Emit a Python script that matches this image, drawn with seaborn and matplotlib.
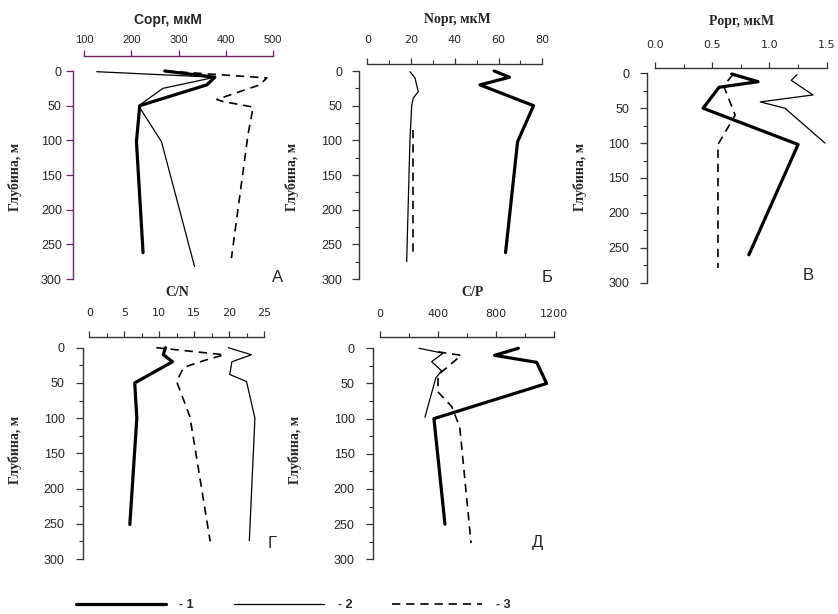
import matplotlib
matplotlib.use("Agg")
import matplotlib.pyplot as plt
from matplotlib.lines import Line2D
import seaborn as sns
import numpy as np

sns.set_style("white")
plt.rcParams['font.family'] = ['Liberation Sans', 'DejaVu Sans']

# ---------------- data ----------------
# Panel А : Сорг, мкМ
corg1_x = [271, 377, 360, 218, 211, 225]
corg1_y = [0, 9, 20, 50, 102, 262]
corg2_x = [127, 377, 267, 218, 220, 264, 334]
corg2_y = [1, 9, 25, 49, 55, 102, 282]
corg3_x = [272, 487, 472, 381, 394, 458, 447, 412]
corg3_y = [0, 10, 20, 41, 44, 52, 92, 270]

# Panel Б : Nорг, мкМ
norg1_x = [58, 65, 51.5, 76, 68.7, 63.2]
norg1_y = [0, 9, 20, 50, 102, 262]
norg2_x = [19.5, 21.8, 23.3, 21, 20.3, 19.5, 18]
norg2_y = [1, 10, 30, 39, 50, 99, 275]
norg3_x = [20.7, 20.7]
norg3_y = [85, 267]

# Panel В : Pорг, мкМ
porg1_x = [0.67, 0.90, 0.56, 0.42, 1.25, 0.82]
porg1_y = [1, 12, 20, 50, 102, 260]
porg2_x = [1.24, 1.19, 1.38, 0.92, 1.135, 1.485]
porg2_y = [2, 10, 31, 41, 50, 100]
porg3_x = [0.68, 0.60, 0.70, 0.55, 0.55]
porg3_y = [2, 18, 60, 102, 279]

# Panel Г : C/N
cn1_x = [10.9, 10.6, 11.9, 6.5, 6.8, 5.8]
cn1_y = [0, 10, 20, 50, 100, 251]
cn2_x = [19.9, 23.2, 20.4, 20.1, 22.5, 23.7, 22.9]
cn2_y = [0, 10, 20, 38, 48, 100, 274]
cn3_x = [9.6, 19.3, 16.5, 13.5, 12.5, 14.4, 17.3]
cn3_y = [0, 10, 18, 28, 48, 98, 275]

# Panel Д : C/P
cp1_x = [954, 790, 1081, 1149, 372, 448]
cp1_y = [0, 10, 20, 50, 100, 250]
cp2_x = [270, 435, 356, 425, 385, 310]
cp2_y = [0, 7, 19, 32, 42, 98]
cp3_x = [400, 560, 480, 400, 400, 495, 550, 628]
cp3_y = [5, 10, 24, 38, 62, 83, 112, 277]

depth_ticks = [0, 50, 100, 150, 200, 250, 300]
legend_labels = ["- 1", "- 2", "- 3"]
panel_letters = ["А", "Б", "В", "Г", "Д"]
titles = ["Сорг, мкМ", "Nорг, мкМ", "Pорг, мкМ", "C/N", "C/P"]
ylabel = "Глубина, м"

# ---------------- figure ----------------
W, H = 838, 614
fig = plt.figure(figsize=(W / 100, H / 100), dpi=100)

def px_axes(l, r, t, b):
    return fig.add_axes([l / W, 1 - b / H, (r - l) / W, (b - t) / H])

P2PT = 72 / 100.0
styles = [dict(lw=2.3, ls='-'), dict(lw=0.9, ls='-'), dict(lw=1.2, ls=(0, (5, 3.5)))]

panels = [
    dict(box=(84, 273, 71, 279), xlim=(100, 500), major=[100, 200, 300, 400, 500], minor=[],
         toff=15, loff=11, xfont='Liberation Sans', xpad=3.5, ypad=3, color='#6b2362',
         ymin=False,
         data=[(corg1_x, corg1_y), (corg2_x, corg2_y), (corg3_x, corg3_y)]),
    dict(box=(367.3, 542.3, 71, 279), xlim=(0, 80), major=[0, 20, 40, 60, 80],
         minor=[10, 30, 50, 70], toff=7, loff=8.3, xfont='DejaVu Sans', xpad=9, ypad=7,
         color='#333333', ymin=True,
         data=[(norg1_x, norg1_y), (norg2_x, norg2_y), (norg3_x, norg3_y)]),
    dict(box=(655, 826.7, 73.3, 282.7), xlim=(0, 1.5), major=[0.0, 0.5, 1.0, 1.5],
         minor=[0.25, 0.75, 1.25], toff=5, loff=7.7, xfont='DejaVu Sans', xpad=9, ypad=8,
         color='#333333', ymin=True,
         data=[(porg1_x, porg1_y), (porg2_x, porg2_y), (porg3_x, porg3_y)]),
    dict(box=(89.3, 264, 347.7, 559), xlim=(0, 25), major=[0, 5, 10, 15, 20, 25],
         minor=[2.5, 7.5, 12.5, 17.5, 22.5], toff=11, loff=6.6, xfont='DejaVu Sans', xpad=9,
         ypad=8, color='#333333', ymin=True,
         data=[(cn1_x, cn1_y), (cn2_x, cn2_y), (cn3_x, cn3_y)]),
    dict(box=(380, 554, 348.3, 559.3), xlim=(0, 1200), major=[0, 400, 800, 1200],
         minor=[200, 600, 1000], toff=11, loff=7.3, xfont='DejaVu Sans', xpad=9, ypad=8,
         color='#333333', ymin=True,
         data=[(cp1_x, cp1_y), (cp2_x, cp2_y), (cp3_x, cp3_y)]),
]

title_pos = [(168, 20, 'Liberation Sans'), (457, 20, 'Liberation Serif'),
             (742, 22, 'Liberation Serif'), (177, 293, 'Liberation Serif'),
             (472, 293, 'Liberation Serif')]
letter_pos = [(278, 278), (547, 277), (808, 275), (272, 543), (537, 543)]
ylab_pos = [(15, 177), (292, 177), (580, 177), (15, 450), (295, 450)]

for i, p in enumerate(panels):
    ax = px_axes(*p['box'])
    for (xs, ys), st in zip(p['data'], styles):
        sns.lineplot(x=xs, y=ys, sort=False, estimator=None, ax=ax, color='black',
                     linewidth=st['lw'], linestyle=st['ls'], clip_on=False)
    ax.set_xlim(*p['xlim'])
    ax.set_ylim(300, 0)
    ax.set_xlabel('')
    ax.set_ylabel('')
    ax.grid(False)
    ax.set_facecolor('none')
    ax.xaxis.tick_top()
    for s in ['right', 'bottom']:
        ax.spines[s].set_visible(False)
    ax.spines['top'].set_position(('outward', p['toff'] * P2PT))
    ax.spines['left'].set_position(('outward', p['loff'] * P2PT))
    ax.spines['top'].set_bounds(*p['xlim'])
    ax.spines['left'].set_bounds(0, 300)
    for s in ['top', 'left']:
        ax.spines[s].set_color(p['color'])
        ax.spines[s].set_linewidth(1.0)
    ax.set_xticks(p['major'])
    if p['minor']:
        ax.set_xticks(p['minor'], minor=True)
    if p['xlim'][1] == 1.5:
        ax.set_xticklabels(['0.0', '0.5', '1.0', '1.5'])
    ax.set_yticks(depth_ticks)
    if p['ymin']:
        ax.set_yticks([25, 75, 125, 175, 225, 275], minor=True)
    ax.tick_params(axis='x', which='major', direction='out', top=True, bottom=False,
                   labeltop=True, labelbottom=False, length=4.5, width=0.9,
                   color=p['color'], pad=p['xpad'], labelsize=8)
    ax.tick_params(axis='x', which='minor', direction='out', top=True, bottom=False,
                   length=3, width=0.8, color=p['color'])
    ax.tick_params(axis='y', which='major', direction='out', left=True, length=5,
                   width=0.9, color=p['color'], pad=p['ypad'], labelsize=9)
    ax.tick_params(axis='y', which='minor', direction='out', left=True, length=3,
                   width=0.8, color=p['color'])
    for lab in ax.get_xticklabels():
        lab.set_fontfamily(p['xfont'])
    for lab in ax.get_yticklabels():
        lab.set_fontfamily('Liberation Sans')

    tx, ty, tf = title_pos[i]
    fig.text(tx / W, 1 - ty / H, titles[i], ha='center', va='center', fontsize=10,
             fontweight='bold', family=tf)
    lx, ly = letter_pos[i]
    fig.text(lx / W, 1 - ly / H, panel_letters[i], ha='center', va='center', fontsize=12,
             family='Liberation Sans')
    yx, yy = ylab_pos[i]
    fig.text(yx / W, 1 - yy / H, ylabel, ha='center', va='center', rotation=90,
             fontsize=10, fontweight='bold', family='Liberation Serif')

handles = [Line2D([], [], color='black', linewidth=st['lw'], linestyle=st['ls'])
           for st in styles]
leg = fig.legend(handles, legend_labels, loc='center', ncol=3, frameon=False,
                 bbox_to_anchor=(293 / W, 1 - 605 / H), handlelength=7.2,
                 handletextpad=1.1, columnspacing=3.2, borderpad=0.1,
                 prop={'family': 'Liberation Sans', 'weight': 'bold', 'size': 9})

fig.savefig("out.png", dpi=100)
